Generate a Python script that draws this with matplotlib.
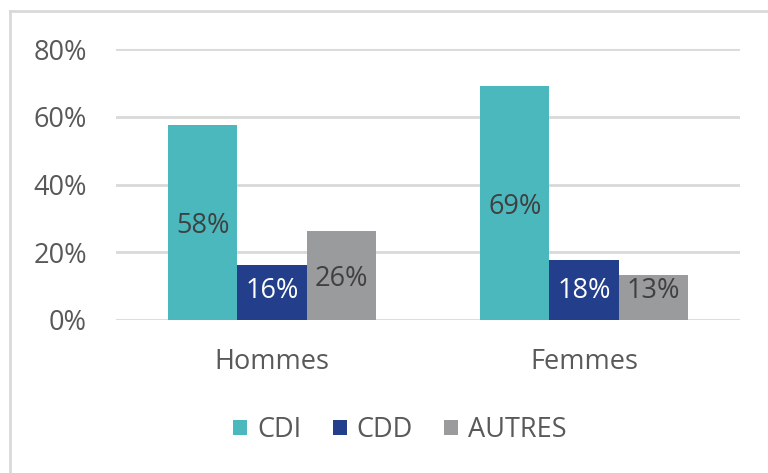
import matplotlib.pyplot as plt
import numpy as np
from matplotlib.lines import Line2D

plt.rcParams['font.family'] = ['Open Sans', 'DejaVu Sans']

# data
groups = ['Hommes', 'Femmes']
series = ['CDI', 'CDD', 'AUTRES']
cdi = [0.576, 0.69]
cdd = [0.162, 0.177]
autres = [0.263, 0.133]
labels_cdi = ['58%', '69%']
labels_cdd = ['16%', '18%']
labels_autres = ['26%', '13%']

colors = ['#4BB8BE', '#233F8B', '#999B9C']
text_colors = ['#404040', 'white', '#404040']
fs = 19.5

fig = plt.figure(figsize=(7.68, 4.73), dpi=100)
ax = fig.add_axes([116 / 768, 1 - 320 / 473, 624 / 768, 271 / 473])

x = np.arange(len(groups))
w = 0.222
for i, (vals, labs) in enumerate(zip([cdi, cdd, autres], [labels_cdi, labels_cdd, labels_autres])):
    bars = ax.bar(x + (i - 1) * w, vals, w, color=colors[i], label=series[i], zorder=3)
    for b, lab in zip(bars, labs):
        # label centred in the bar, but kept inside it for short bars
        ypos = max(b.get_height() / 2, 0.097)
        ax.text(b.get_x() + b.get_width() / 2, ypos, lab,
                ha='center', va='center_baseline', fontsize=fs, color=text_colors[i], zorder=4)

ax.set_xlim(-0.5, 1.5)
ax.set_ylim(0, 0.8)
ax.set_yticks([0, 0.2, 0.4, 0.6, 0.8])
ax.set_yticklabels(['0%', '20%', '40%', '60%', '80%'])
ax.set_xticks(x)
ax.set_xticklabels(groups)
ax.tick_params(axis='both', length=0, labelsize=fs, labelcolor='#595959')
ax.tick_params(axis='y', pad=21)
ax.tick_params(axis='x', pad=20)
ax.grid(axis='y', color='#D9D9D9', linewidth=2, zorder=0)
for s in ax.spines.values():
    s.set_visible(False)

leg = fig.legend(loc='center', bbox_to_anchor=(400 / 768, 1 - 430 / 473), ncol=3, frameon=False,
                 fontsize=fs, labelcolor='#595959', handlelength=0.52, handleheight=0.52,
                 handletextpad=0.37, columnspacing=1.15)

# outer frame (left and top only visible)
fig.add_artist(Line2D([9.5 / 768, 9.5 / 768], [0, 1 - 11 / 473], color='#D9D9D9', linewidth=2))
fig.add_artist(Line2D([9.5 / 768, 1], [1 - 11 / 473, 1 - 11 / 473], color='#D9D9D9', linewidth=2))

fig.savefig('out.png', dpi=100)
